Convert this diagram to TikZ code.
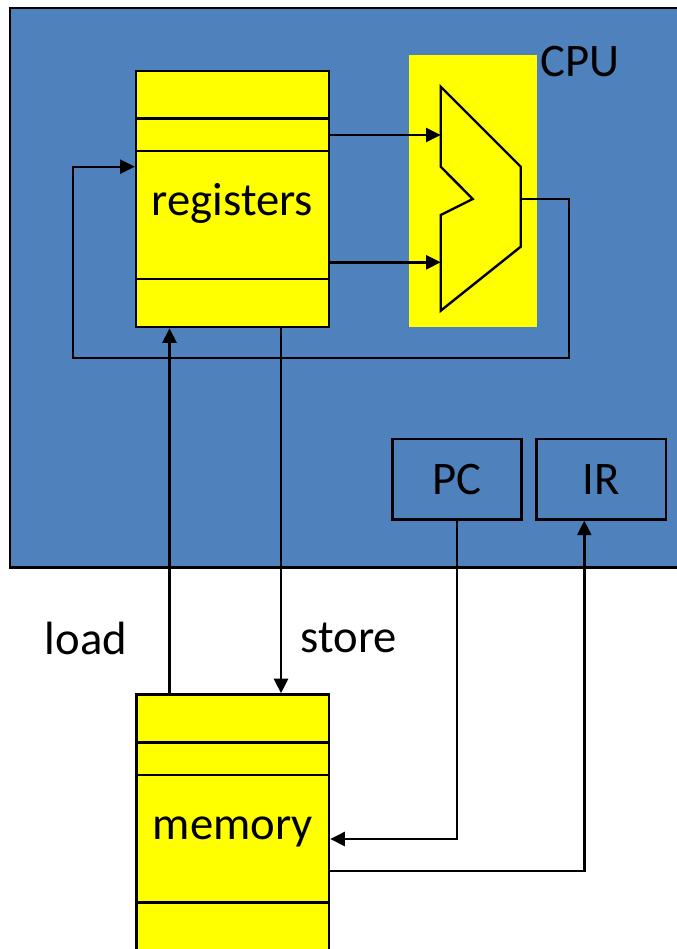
\documentclass[tikz,border=0pt]{standalone}
\usepackage{fontspec}
\setmainfont{Carlito}
\usetikzlibrary{arrows.meta}
\definecolor{cpublue}{RGB}{79,129,189}
\definecolor{hiyellow}{RGB}{255,255,0}
\begin{document}
\begin{tikzpicture}[x=0.75pt,y=-0.75pt,
  wire/.style={line width=1.8pt},
  arr/.style={wire,-{Triangle[length=11pt,width=10.5pt]}},
  bigtext/.style={font=\fontsize{35}{42}\selectfont},
  stack/.style={draw,line width=1.8pt,fill=hiyellow,inner sep=0pt,bigtext,
    text height=25pt,text depth=6pt},
  regbox/.style={draw,line width=1.8pt,fill=cpublue,inner sep=0pt,bigtext,
    minimum width=97pt,minimum height=60.2pt}]
\useasboundingbox (0,0) rectangle (677,949);

% CPU enclosure
\node[draw,line width=1.8pt,fill=cpublue,inner sep=0pt,anchor=north west,
      minimum width=520pt,minimum height=419.5pt] (cpu) at (9,7) {};
\node[bigtext] (cpulabel) at (580,62) {CPU};

% ALU backdrop and symbol
\node[fill=hiyellow,inner sep=0pt,minimum width=96pt,minimum height=204pt] (alubg) at (473,191) {};
\coordinate (ina) at (440.7,135);
\coordinate (inb) at (440.7,262.3);
\coordinate (aluout) at (520.7,199);
\draw[wire,line join=miter] (440.7,86.7) -- (520.7,166.7) -- (520.7,246.7) -- (440.7,310.7)
  -- (440.7,215) -- (472.7,199) -- (440.7,166.7) -- cycle;

% register file
\node[stack,minimum width=144.75pt,minimum height=192pt,text height=28pt,text depth=4pt]
  (regs) at (232.5,199) {registers};
\foreach \yy in {118.3,150.7,279} \draw[wire] (regs.west |- 0,\yy) -- (regs.east |- 0,\yy);

% memory
\node[stack,minimum width=144.4pt,minimum height=199.1pt] (mem) at (232.75,827.25) {memory};
\foreach \yy in {742.3,775,902.3} \draw[wire] (mem.west |- 0,\yy) -- (mem.east |- 0,\yy);

% PC and IR
\node[regbox] (pc) at (457,479.2) {PC};
\node[regbox] (ir) at (601.2,479.2) {IR};

% register outputs into the ALU
\draw[arr] (regs.east |- ina) -- (ina);
\draw[arr] (regs.east |- inb) -- (inb);

% ALU result written back to the registers
\coordinate (fbr) at (569,358);
\coordinate (fbl) at (72.7,358);
\coordinate (fby) at (0,166.7);
\draw[arr] (aluout) -| (fbr) -- (fbl) |- (regs.west |- fby);

% load / store paths
\coordinate (ldx) at (169.5,0);
\coordinate (stx) at (281,0);
\draw[arr] (mem.north -| ldx) -- (regs.south -| ldx);
\draw[arr] (regs.south -| stx) -- (mem.north -| stx);
\node[bigtext] (load) at (86,638) {load};
\node[bigtext] (store) at (349,638) {store};

% PC addresses memory, memory fills IR
\coordinate (pcy) at (0,839);
\coordinate (iry) at (0,870.7);
\coordinate (irx) at (584.3,0);
\draw[arr] (pc.south) |- (mem.east |- pcy);
\draw[arr] (mem.east |- iry) -| (ir.south -| irx);
\end{tikzpicture}
\end{document}
